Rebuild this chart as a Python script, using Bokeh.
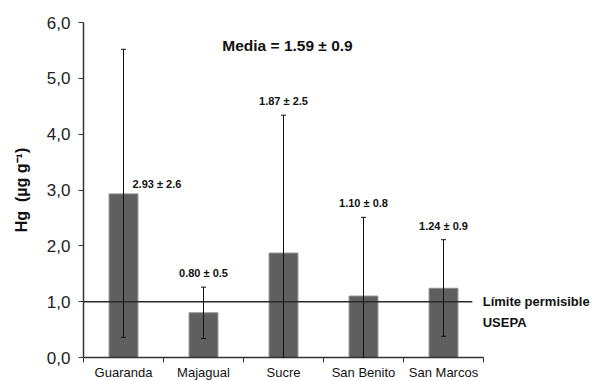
from bokeh.plotting import figure
from bokeh.models import Range1d, FixedTicker, Whisker, ColumnDataSource, Label, TeeHead
from bokeh.embed import file_html
from bokeh.resources import INLINE

sites = ["Guaranda", "Majagual", "Sucre", "San Benito", "San Marcos"]
means = [2.93, 0.80, 1.87, 1.10, 1.24]
err_upper = [5.52, 1.26, 4.34, 2.51, 2.11]
err_lower = [0.36, 0.34, 0.0, 0.0, 0.38]
labels = ["2.93 ± 2.6", "0.80 ± 0.5", "1.87 ± 2.5", "1.10 ± 0.8", "1.24 ± 0.9"]
limit = 1.0
y_ticks = [0, 1, 2, 3, 4, 5, 6]
y_tick_labels = ["0,0", "1,0", "2,0", "3,0", "4,0", "5,0", "6,0"]
media_text = "Media = 1.59 ± 0.9"

FONT = "Liberation Sans"
xs = [i + 0.5 for i in range(len(sites))]

p = figure(frame_width=510, frame_height=335, output_backend="svg", toolbar_location=None,
           x_range=Range1d(0, 6.375), y_range=Range1d(0, 6),
           min_border_left=83, min_border_right=0, min_border_top=22, min_border_bottom=16)
p.outline_line_color = None
p.grid.grid_line_color = None
p.background_fill_color = "white"

src = ColumnDataSource(dict(x=xs, top=means, up=err_upper, lo=err_lower))
p.vbar(x="x", top="top", width=0.36, bottom=0, source=src,
       fill_color="#5f5f5f", line_color="#8a8a8a", line_width=1)

p.segment(x0=[0], y0=[limit], x1=[4.86], y1=[limit], line_color="#2b2b2b", line_width=1.5)

w = Whisker(base="x", upper="up", lower="lo", source=src, line_color="#111111", line_width=1,
            level="overlay",
            upper_head=TeeHead(size=5, line_color="#111111", line_width=1),
            lower_head=TeeHead(size=5, line_color="#111111", line_width=1))
p.add_layout(w)

# value labels
for i, (x, t) in enumerate(zip(xs, labels)):
    if i == 0:
        p.add_layout(Label(x=x, y=means[i], text=t, x_offset=9, y_offset=10,
                           text_font=FONT, text_font_style="bold", text_font_size="11px",
                           text_align="left", text_baseline="middle", text_color="#111111"))
    else:
        p.add_layout(Label(x=x, y=err_upper[i], text=t, y_offset=14,
                           text_font=FONT, text_font_style="bold", text_font_size="11px",
                           text_align="center", text_baseline="middle", text_color="#111111"))

p.add_layout(Label(x=2.55, y=6, y_offset=-23, text=media_text, text_font=FONT,
                   text_font_style="bold", text_font_size="15.5px", text_align="center",
                   text_baseline="middle", text_color="#111111"))
p.add_layout(Label(x=4.99, y=limit, text="Límite permisible", text_font=FONT,
                   text_font_style="bold", text_font_size="13px", text_align="left",
                   text_baseline="middle", text_color="#111111"))
p.add_layout(Label(x=4.99, y=limit, y_offset=-21, text="USEPA", text_font=FONT,
                   text_font_style="bold", text_font_size="13px", text_align="left",
                   text_baseline="middle", text_color="#111111"))

# x axis
p.xaxis.bounds = (0, 5)
p.xaxis.ticker = FixedTicker(ticks=xs, minor_ticks=[0, 1, 2, 3, 4, 5])
p.xaxis.major_label_overrides = {x: s for x, s in zip(xs, sites)}
p.xaxis.major_tick_out = 0
p.xaxis.major_tick_in = 0
p.xaxis.minor_tick_out = 5
p.xaxis.minor_tick_in = 0
p.xaxis.minor_tick_line_color = "#333333"
p.xaxis.axis_line_color = "#333333"
p.xaxis.axis_line_width = 1.5
p.xaxis.major_label_text_font = FONT
p.xaxis.major_label_text_font_size = "13px"
p.xaxis.major_label_text_color = "#111111"
p.xaxis.major_label_standoff = 2

# y axis
p.yaxis.ticker = FixedTicker(ticks=y_ticks, minor_ticks=[])
p.yaxis.major_label_overrides = {t: s for t, s in zip(y_ticks, y_tick_labels)}
p.yaxis.major_tick_out = 5
p.yaxis.major_tick_in = 0
p.yaxis.major_tick_line_color = "#333333"
p.yaxis.axis_line_color = "#333333"
p.yaxis.axis_line_width = 1.5
p.yaxis.major_label_text_font = FONT
p.yaxis.major_label_text_font_size = "17px"
p.yaxis.major_label_text_color = "#222222"
p.yaxis.major_label_standoff = 8
p.yaxis.axis_label = "Hg\u00a0\u00a0(µg g⁻¹)"
p.yaxis.axis_label_text_font = FONT
p.yaxis.axis_label_text_font_style = "bold"
p.yaxis.axis_label_text_font_size = "16px"
p.yaxis.axis_label_text_color = "#111111"
p.yaxis.axis_label_standoff = 14

open("out.html", "w").write(file_html(p, INLINE))
